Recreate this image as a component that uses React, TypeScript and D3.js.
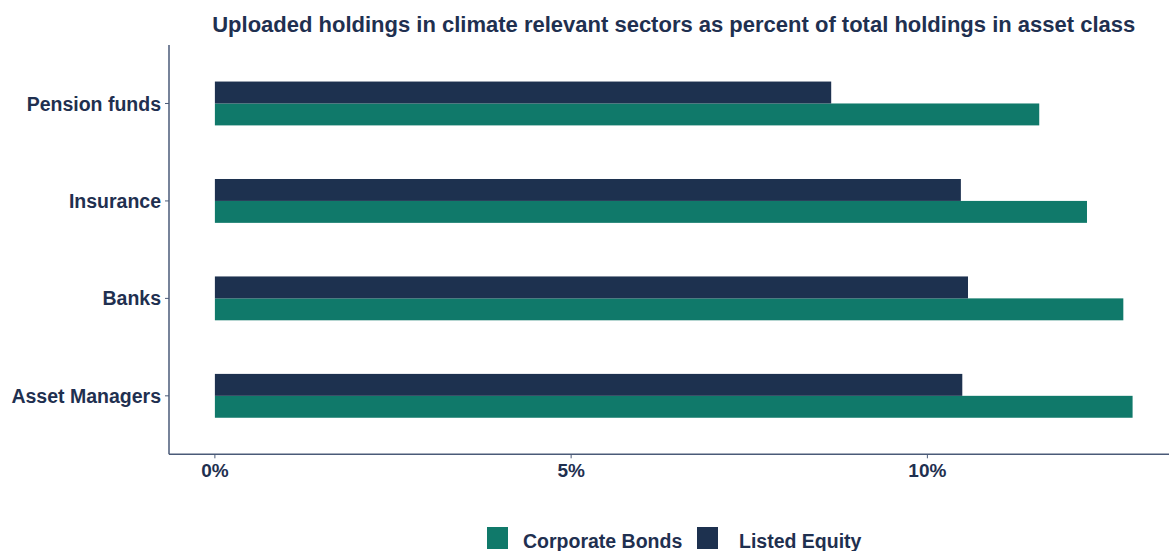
// Climate relevant holdings chart: grouped horizontal bars, D3 scales in JSX
import React from "react";
import * as d3 from "d3";

const categories = ["Pension funds", "Insurance", "Banks", "Asset Managers"];
const seriesNames = ["Corporate Bonds", "Listed Equity"];
const corporateBonds = [11.57, 12.24, 12.75, 12.88];
const listedEquity = [8.65, 10.47, 10.57, 10.49];
const tickValues = [0, 5, 10];
const tickLabels = ["0%", "5%", "10%"];

const W = 1169;
const H = 551;
const FONT = "'Liberation Sans', Arial, Helvetica, sans-serif";
const TEXT = "#1f3050";
const AXIS = "#4a5a78";
const colors: Record<string, string> = {
  "Corporate Bonds": "#10796a",
  "Listed Equity": "#1d314f",
};

const panel = { left: 169, top: 45, bottom: 454.3 };

export default function App() {
  const xMax = d3.max([...corporateBonds, ...listedEquity]) as number;
  const pad = xMax * 0.05;
  const pxPerUnit = 71.25;
  const x = d3
    .scaleLinear()
    .domain([-pad, xMax + pad])
    .range([panel.left, panel.left + (xMax + 2 * pad) * pxPerUnit]);

  const y = d3
    .scalePoint<string>()
    .domain(categories)
    .range([panel.top, panel.bottom])
    .padding(0.6);

  const step = y.step();
  const groupH = step * 0.45;
  const sub = d3
    .scaleBand<string>()
    .domain(["Listed Equity", "Corporate Bonds"])
    .range([-groupH / 2, groupH / 2]);

  const valuesOf = (s: string) => (s === "Corporate Bonds" ? corporateBonds : listedEquity);
  const centerX = (panel.left + x.range()[1]) / 2;

  return (
    <svg
      width={W}
      height={H}
      style={{ position: "absolute", left: 0, top: 0, background: "#fff" }}
      fontFamily={FONT}
      fontWeight="bold"
    >
      <text x={centerX} y={32} textAnchor="middle" fontSize={22} fill={TEXT}>
        Uploaded holdings in climate relevant sectors as percent of total holdings in asset class
      </text>

      {categories.map((c, i) =>
        seriesNames.map((s) => {
          const v = valuesOf(s)[i];
          return (
            <rect
              key={c + s}
              x={x(0)}
              y={(y(c) as number) + (sub(s) as number)}
              width={x(v) - x(0)}
              height={sub.bandwidth()}
              fill={colors[s]}
            />
          );
        })
      )}

      {/* axes */}
      <line x1={panel.left} x2={panel.left} y1={panel.top} y2={panel.bottom} stroke={AXIS} strokeWidth={1.5} />
      <line x1={panel.left} x2={W} y1={panel.bottom} y2={panel.bottom} stroke={AXIS} strokeWidth={1.5} />

      {categories.map((c) => (
        <g key={c} transform={`translate(0,${y(c)})`}>
          <line x1={panel.left - 4} x2={panel.left} stroke={AXIS} strokeWidth={1} />
          <text x={panel.left - 8} dy="0.36em" textAnchor="end" fontSize={19.5} fill={TEXT}>
            {c}
          </text>
        </g>
      ))}

      {tickValues.map((t, i) => (
        <g key={t} transform={`translate(${x(t)},${panel.bottom})`}>
          <line y1={0} y2={4} stroke={AXIS} strokeWidth={1} />
          <text y={23} textAnchor="middle" fontSize={19} fill={TEXT}>
            {tickLabels[i]}
          </text>
        </g>
      ))}

      {/* legend */}
      <g>
        <rect x={487} y={527} width={21} height={22} fill={colors["Corporate Bonds"]} />
        <text x={523} y={548} fontSize={19.5} fill={TEXT}>Corporate Bonds</text>
        <rect x={697} y={527} width={21} height={22} fill={colors["Listed Equity"]} />
        <text x={739} y={548} fontSize={19.5} fill={TEXT}>Listed Equity</text>
      </g>
    </svg>
  );
}

// eof
